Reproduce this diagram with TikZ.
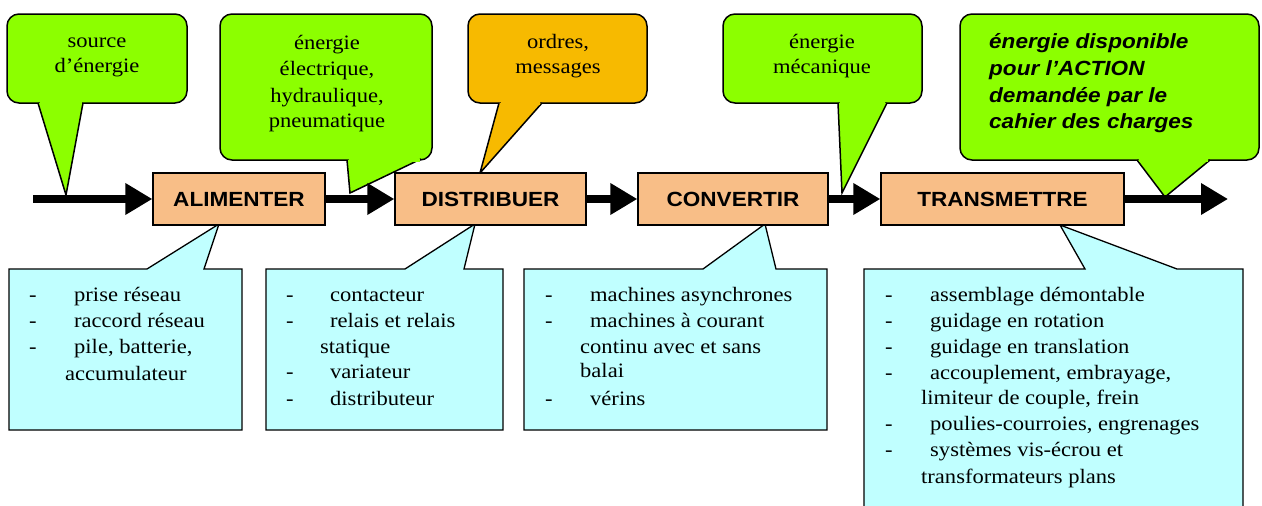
\documentclass[tikz,border=0pt]{standalone}
\usepackage{fontspec}
\setmainfont{Liberation Serif}[FakeStretch=1.1]
\newfontfamily\sansfam{Liberation Sans}[FakeStretch=1.1]
\usetikzlibrary{arrows.meta}
\definecolor{calgreen}{HTML}{8CFF00}
\definecolor{calgold}{HTML}{F7BA00}
\definecolor{boxorange}{HTML}{F8BE87}
\definecolor{calcyan}{HTML}{C0FFFF}
\begin{document}
\begin{tikzpicture}[x=1pt,y=-1pt,
  fnbox/.style={draw=black, line width=1.3pt, fill=boxorange, minimum height=52pt, inner sep=0pt,
    font=\sansfam\bfseries\fontsize{20.5}{26}\selectfont},
  flow/.style={line width=8pt, -{Triangle[length=27pt,width=30pt]}},
  callout/.style={draw=black, line width=1.5pt},
  serif/.style={font=\fontsize{20.5}{26}\selectfont, inner sep=0pt, anchor=base},
  lst/.style={font=\fontsize{20.5}{26}\selectfont, inner sep=0pt, anchor=base west},
  bolditl/.style={font=\sansfam\bfseries\itshape\fontsize{20.5}{26}\selectfont, inner sep=0pt, anchor=base west}
]
\useasboundingbox (0,0) rectangle (1262,506);
\clip (0,0) rectangle (1262,506);

% ---- top callouts (green / gold) ----
% 1 source
\filldraw[callout, fill=calgreen, rounded corners=12pt] (7,14) rectangle (187,103);
\filldraw[callout, fill=calgreen] (38,103) -- (66,195) -- (83,103);
\fill[calgreen] (39.5,101.5) rectangle (81.5,104.5);
% 2 energie electrique
\filldraw[callout, fill=calgreen, rounded corners=12pt] (220,14) rectangle (432,160);
\filldraw[callout, fill=calgreen] (347,160) -- (350,193) -- (421,159);
\fill[calgreen] (348.5,158.5) rectangle (420,161.5);
% 3 ordres
\filldraw[callout, fill=calgold, rounded corners=12pt] (468,14) rectangle (647,103);
\filldraw[callout, fill=calgold] (499,103) -- (480,173) -- (542,103);
\fill[calgold] (500.5,101.5) rectangle (540,104.5);
% 4 energie mecanique
\filldraw[callout, fill=calgreen, rounded corners=12pt] (723,14) rectangle (922,103);
\filldraw[callout, fill=calgreen] (838,103) -- (842,193) -- (887,103);
\fill[calgreen] (839.5,101.5) rectangle (885,104.5);
% 5 energie disponible
\filldraw[callout, fill=calgreen, rounded corners=12pt] (960,14) rectangle (1259,160);
\filldraw[callout, fill=calgreen] (1137,160) -- (1165,197) -- (1210,160);
\fill[calgreen] (1139,158.5) rectangle (1208,161.5);

% ---- bottom callouts (cyan) ----
\filldraw[callout, line width=1.3pt, fill=calcyan] (9,269) -- (147,269) -- (219,224) -- (204,269) -- (242,269) -- (242,430) -- (9,430) -- cycle;
\filldraw[callout, line width=1.3pt, fill=calcyan] (266,269) -- (405,269) -- (475,224) -- (464,269) -- (503,269) -- (503,430) -- (266,430) -- cycle;
\filldraw[callout, line width=1.3pt, fill=calcyan] (524,269) -- (703,269) -- (765,224) -- (776,269) -- (827,269) -- (827,430) -- (524,430) -- cycle;
\filldraw[callout, line width=1.3pt, fill=calcyan] (864,269) -- (1085,269) -- (1060,225) -- (1177,269) -- (1243,269) -- (1243,520) -- (864,520) -- cycle;

% ---- chain ----
\coordinate (src) at (33,199);
\coordinate (out) at (1228,199);
\node[fnbox, minimum width=172pt] (alim) at (239,199) {ALIMENTER};
\node[fnbox, minimum width=191pt] (dist) at (490.5,199) {DISTRIBUER};
\node[fnbox, minimum width=190pt] (conv) at (733,199) {CONVERTIR};
\node[fnbox, minimum width=243pt] (trans) at (1002.5,199) {TRANSMETTRE};
\draw[flow] (src) -- (alim.west);
\draw[flow] (alim.east) -- (dist.west);
\draw[flow] (dist.east) -- (conv.west);
\draw[flow] (conv.east) -- (trans.west);
\draw[flow] (trans.east) -- (out);

% ---- top texts ----
\node[serif] (s1) at (97,47) {source};
\node[serif] (s2) at (97,72) {d’énergie};
\node[serif] (e1) at (327,49) {énergie};
\node[serif] (e2) at (327,75) {électrique,};
\node[serif] (e3) at (327,102) {hydraulique,};
\node[serif] (e4) at (327,127) {pneumatique};
\node[serif] (o1) at (558,48) {ordres,};
\node[serif] (o2) at (558,73) {messages};
\node[serif] (m1) at (822,48) {énergie};
\node[serif] (m2) at (822,73) {mécanique};
\node[bolditl] (d1) at (989,48) {énergie disponible};
\node[bolditl] (d2) at (989,75) {pour l’ACTION};
\node[bolditl] (d3) at (989,102) {demandée par le};
\node[bolditl] (d4) at (989,128) {cahier des charges};

% ---- list 1 ----
\node[lst] (a1d) at (29,301) {-};
\node[lst] (a1) at (74,301) {prise réseau};
\node[lst] (a2d) at (29,327) {-};
\node[lst] (a2) at (74,327) {raccord réseau};
\node[lst] (a3d) at (29,353) {-};
\node[lst] (a3) at (74,353) {pile, batterie,};
\node[lst] (a4) at (65,380) {accumulateur};
% ---- list 2 ----
\node[lst] (b1d) at (286,301) {-};
\node[lst] (b1) at (330,301) {contacteur};
\node[lst] (b2d) at (286,327) {-};
\node[lst] (b2) at (330,327) {relais et relais};
\node[lst] (b3) at (320,353) {statique};
\node[lst] (b4d) at (286,378) {-};
\node[lst] (b4) at (330,378) {variateur};
\node[lst] (b5d) at (286,405) {-};
\node[lst] (b5) at (330,405) {distributeur};
% ---- list 3 ----
\node[lst] (c1d) at (545,301) {-};
\node[lst] (c1) at (590,301) {machines asynchrones};
\node[lst] (c2d) at (545,327) {-};
\node[lst] (c2) at (590,327) {machines à courant};
\node[lst] (c3) at (580,353) {continu avec et sans};
\node[lst] (c4) at (580,377) {balai};
\node[lst] (c5d) at (545,405) {-};
\node[lst] (c5) at (590,405) {vérins};
% ---- list 4 ----
\node[lst] (f1d) at (885,301) {-};
\node[lst] (f1) at (930,301) {assemblage démontable};
\node[lst] (f2d) at (885,327) {-};
\node[lst] (f2) at (930,327) {guidage en rotation};
\node[lst] (f3d) at (885,353) {-};
\node[lst] (f3) at (930,353) {guidage en translation};
\node[lst] (f4d) at (885,379) {-};
\node[lst] (f4) at (930,379) {accouplement, embrayage,};
\node[lst] (f5) at (921,404) {limiteur de couple, frein};
\node[lst] (f6d) at (885,430) {-};
\node[lst] (f6) at (930,430) {poulies-courroies, engrenages};
\node[lst] (f7d) at (885,456) {-};
\node[lst] (f7) at (930,456) {systèmes vis-écrou et};
\node[lst] (f8) at (921,483) {transformateurs plans};
\end{tikzpicture}
\end{document}
